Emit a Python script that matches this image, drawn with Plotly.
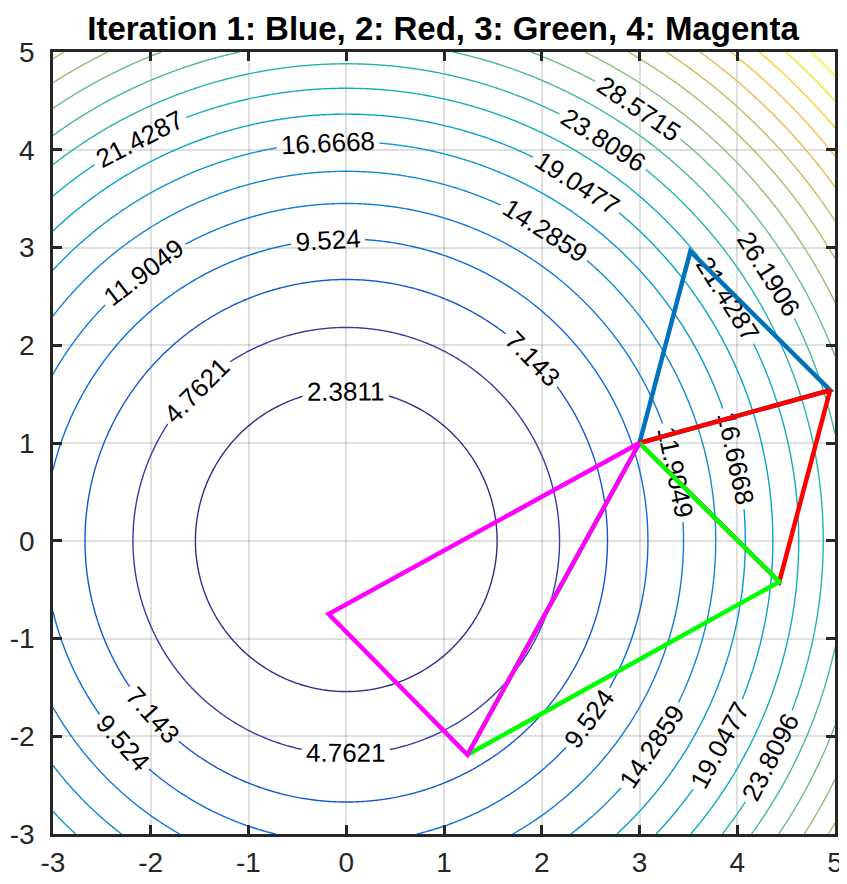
import numpy as np
import plotly.graph_objects as go

# ---- data ----
grid_x = np.linspace(-3, 5, 321)
grid_y = np.linspace(-3, 5, 321)
level_start = 2.381132      # first contour level (label 2.3811)
level_step = 2.380944       # spacing between contour levels
level_end = 48.0

# simplex vertices per iteration (closed triangles)
iter_names = ["Iteration 1", "Iteration 2", "Iteration 3", "Iteration 4"]
iter_colors = ["#0072BD", "#FF0000", "#00FF00", "#FF00FF"]
tri_x = [
    [3.0, 3.52, 4.95, 3.0],
    [3.0, 4.95, 4.43, 3.0],
    [3.0, 4.43, 1.24, 3.0],
    [3.0, 1.24, -0.18, 3.0],
]
tri_y = [
    [1.0, 2.96, 1.54, 1.0],
    [1.0, 1.54, -0.42, 1.0],
    [1.0, -0.42, -2.19, 1.0],
    [1.0, -2.19, -0.75, 1.0],
]

tick_vals = [-3, -2, -1, 0, 1, 2, 3, 4, 5]
tick_text = ["-3", "-2", "-1", "0", "1", "2", "3", "4", "5"]

title_text = "Iteration 1: Blue, 2: Red, 3: Green, 4: Magenta"

parula = [
    [0.000, "rgb(53,42,135)"],
    [0.063, "rgb(53,61,173)"],
    [0.127, "rgb(3,99,225)"],
    [0.190, "rgb(13,117,220)"],
    [0.254, "rgb(20,133,212)"],
    [0.317, "rgb(9,152,209)"],
    [0.381, "rgb(6,167,198)"],
    [0.444, "rgb(21,177,180)"],
    [0.508, "rgb(56,185,158)"],
    [0.571, "rgb(101,190,134)"],
    [0.635, "rgb(146,191,115)"],
    [0.698, "rgb(183,189,100)"],
    [0.762, "rgb(217,186,86)"],
    [0.825, "rgb(248,187,68)"],
    [0.889, "rgb(252,206,46)"],
    [0.952, "rgb(245,228,29)"],
    [1.000, "rgb(249,251,14)"],
]

FONT = "Liberation Sans, Arial, Helvetica, sans-serif"

X, Y = np.meshgrid(grid_x, grid_y)
Z = X ** 2 + Y ** 2

fig = go.Figure()
fig.add_trace(go.Contour(
    x=grid_x, y=grid_y, z=Z,
    zmin=0, zmax=50, zauto=False,
    colorscale=parula, showscale=False,
    contours=dict(coloring="lines", start=level_start, end=level_end,
                  size=level_step, showlabels=True,
                  labelfont=dict(size=26, color="black", family=FONT),
                  labelformat=".4~f"),
    line=dict(width=1.4),
    hoverinfo="skip",
))

for name, col, xs, ys in zip(iter_names, iter_colors, tri_x, tri_y):
    fig.add_trace(go.Scatter(x=xs, y=ys, mode="lines", name=name,
                             line=dict(color=col, width=4.5),
                             showlegend=False))

axis_common = dict(
    range=[-3, 5], tickvals=tick_vals, ticktext=tick_text,
    showgrid=True, gridcolor="rgba(38,38,38,0.15)", gridwidth=1.5,
    zeroline=False, showline=True, linecolor="#262626", linewidth=2.5,
    mirror="ticks", ticks="inside", ticklen=9, tickwidth=2.5, tickcolor="#262626",
    tickfont=dict(size=28, color="#262626", family=FONT),
    automargin=False,
)
fig.update_xaxes(**axis_common, ticklabelstandoff=2)
fig.update_yaxes(**axis_common, ticklabelstandoff=10)

# page body has an 8px default margin, so the figure is sized to fill the
# remaining window area
fig.update_layout(
    width=839, height=876,
    margin=dict(l=45, r=12, t=44, b=50),
    paper_bgcolor="white", plot_bgcolor="white",
    title=dict(text="<b>" + title_text + "</b>", x=435 / 839, xanchor="center",
               y=1 - 20 / 876, yanchor="middle", yref="container",
               font=dict(size=33, color="black", family=FONT)),
)

fig.write_html("out.html")
